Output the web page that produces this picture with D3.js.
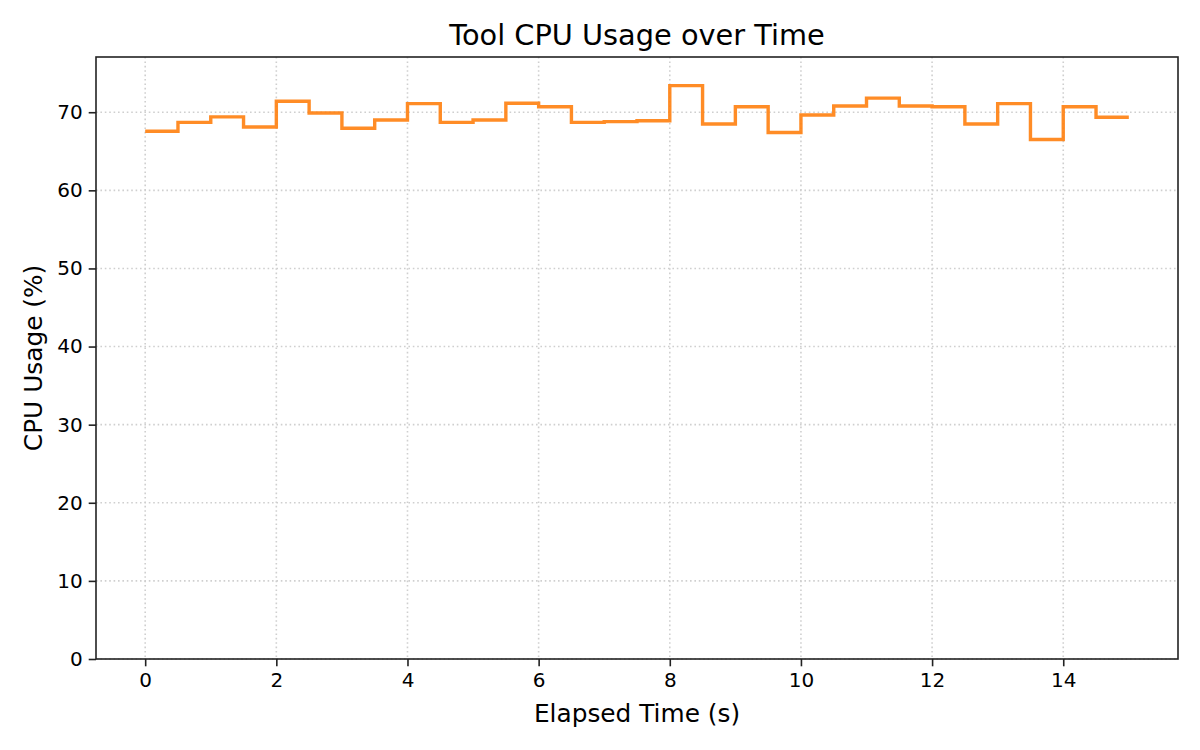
<!DOCTYPE html>
<html>
<head>
<meta charset="utf-8">
<script src="https://cdn.jsdelivr.net/npm/d3@7"></script>
<style>
  body { margin: 0; background: #fff; }
  svg text { font-family: "DejaVu Sans", sans-serif; fill: #000; }
</style>
</head>
<body>
<svg id="chart" width="1200" height="750"></svg>
<script>
// elapsed time (s) and CPU usage (%) sampled every 0.5s
var times = [0, 0.5, 1, 1.5, 2, 2.5, 3, 3.5, 4, 4.5, 5, 5.5, 6, 6.5, 7, 7.5,
             8, 8.5, 9, 9.5, 10, 10.5, 11, 11.5, 12, 12.5, 13, 13.5, 14, 14.5, 15];
var cpu = [67.56, 68.7, 69.4, 68.1, 71.4, 69.9, 67.95, 69.0, 71.1, 68.7, 69.0, 71.15,
           70.7, 68.7, 68.8, 68.9, 73.4, 68.5, 70.7, 67.4, 69.65, 70.8, 71.8, 70.8,
           70.7, 68.5, 71.1, 66.5, 70.7, 69.35, 69.35];
var xTicks = [0, 2, 4, 6, 8, 10, 12, 14];
var yTicks = [0, 10, 20, 30, 40, 50, 60, 70];

var svg = d3.select('#chart');

// plot area, matches the original figure
var box = {l: 96, r: 1178, t: 57, b: 659};

var xMax = d3.max(times), yMax = d3.max(cpu);
var x = d3.scaleLinear([-0.05 * xMax, xMax * 1.05], [box.l, box.r]);
var y = d3.scaleLinear([0, yMax * 1.05], [box.b, box.t]);

var g = svg.append('g');

// dotted grid
g.append('g').selectAll('line')
    .data(xTicks)
    .enter().append('line')
    .attr('x1', d => x(d)).attr('x2', d => x(d))
    .attr('y1', box.t).attr('y2', box.b)
    .attr('stroke', '#cfcfcf').attr('stroke-width', 1.6)
    .attr('stroke-dasharray', '1.6,2.8');

g.append('g').selectAll('line')
    .data(yTicks)
    .enter().append('line')
    .attr('x1', box.l).attr('x2', box.r)
    .attr('y1', d => y(d)).attr('y2', d => y(d))
    .attr('stroke', '#cfcfcf').attr('stroke-width', 1.6)
    .attr('stroke-dasharray', '1.6,2.8');

// step line
var line = d3.line()
    .x((d, i) => x(times[i]))
    .y(d => y(d))
    .curve(d3.curveStepAfter);

g.append('path')
    .datum(cpu)
    .attr('d', line)
    .attr('fill', 'none')
    .attr('stroke', '#ff7f0e')
    .attr('stroke-opacity', 0.9)
    .attr('stroke-width', 3.4)
    .attr('stroke-linejoin', 'miter')
    .attr('stroke-linecap', 'butt');

// axes
var xAxis = d3.axisBottom(x).tickValues(xTicks).tickSize(7.3).tickPadding(6).tickFormat(d3.format('d'));
var yAxis = d3.axisLeft(y).tickValues(yTicks).tickSize(7.3).tickPadding(6).tickFormat(d3.format('d'));

var gx = svg.append('g').attr('transform', 'translate(0,' + box.b + ')').call(xAxis);
var gy = svg.append('g').attr('transform', 'translate(' + box.l + ',0)').call(yAxis);

[gx, gy].forEach(function(a) {
    a.select('.domain').remove();
    a.selectAll('.tick line').attr('stroke', '#222').attr('stroke-width', 1.6);
    a.selectAll('.tick text').style('font-size', '20px').attr('fill', '#000');
});

// frame
svg.append('rect')
    .attr('x', box.l).attr('y', box.t)
    .attr('width', box.r - box.l).attr('height', box.b - box.t)
    .attr('fill', 'none').attr('stroke', '#222').attr('stroke-width', 1.6);

// labels
svg.append('text')
    .attr('x', (box.l + box.r) / 2).attr('y', 45)
    .attr('text-anchor', 'middle')
    .style('font-size', '28.8px')
    .text('Tool CPU Usage over Time');

svg.append('text')
    .attr('x', (box.l + box.r) / 2).attr('y', 722)
    .attr('text-anchor', 'middle')
    .style('font-size', '24.8px')
    .text('Elapsed Time (s)');

svg.append('text')
    .attr('transform', 'translate(42,' + (box.t + box.b) / 2 + ') rotate(-90)')
    .attr('text-anchor', 'middle')
    .style('font-size', '24.8px')
    .text('CPU Usage (%)');
</script>
</body>
</html>
